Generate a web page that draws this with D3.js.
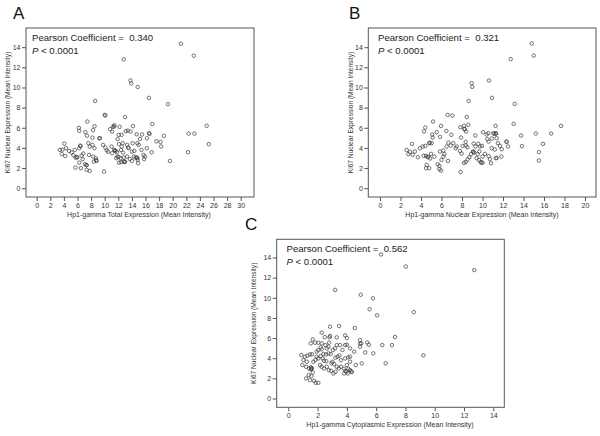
<!DOCTYPE html>
<html>
<head>
<meta charset="utf-8">
<script src="https://cdn.jsdelivr.net/npm/d3@7"></script>
<style>
  html, body { margin: 0; padding: 0; background: #fff; }
  svg { display: block; font-family: Arial, "Liberation Sans", sans-serif; }
</style>
</head>
<body>
<svg id="chart" width="600" height="436"></svg>
<script>
// ---------- DATA ----------
const yTicks = [0, 2, 4, 6, 8, 10, 12, 14];
const aTicks = d3.range(0, 31, 2);
const bTicks = d3.range(0, 21, 2);
const cTicks = d3.range(0, 15, 2);

const aTitleX = "Hp1-gamma Total Expression (Mean Intensity)";
const bTitleX = "Hp1-gamma Nuclear Expression (Mean Intensity)";
const cTitleX = "Hp1-gamma Cytoplasmic Expression (Mean Intensity)";
const titleY = "Ki67 Nuclear Expression (Mean Intensity)";
const coefficients = ["0.340", "0.321", "0.562"];
const panelLetters = ["A", "B", "C"];

// Panel A: Hp1-gamma total vs Ki67
const aX = [21.2,23.1,12.8,13.8,13.9,14.85,16.5,19.3,8.6,10.0,10.1,13.0,7.45,17.0,25.0,22.35,23.2,25.3,22.25,19.6,
  18.7,17.6,18.2,18.3,16.9,16.5,16.6,16.2,
  6.2,6.26,7.15,8.5,8.3,7.4,8.2,9.3,10.8,11.4,12.2,11.1,12.06,11.9,13.1,13.4,13.8,14.16,14.7,15.5,14.1,14.8,15.2,15.0,
  4.06,3.4,3.8,4.3,4.75,3.7,4.2,5.15,5.6,5.4,5.7,6.4,6.45,6.26,5.9,5.95,6.6,6.85,6.76,6.26,5.7,6.5,7.1,7.3,7.35,7.35,7.8,
  7.7,7.6,7.8,8.2,8.5,8.3,8.7,8.8,8.75,8.4,9.9,9.75,10.1,10.3,10.5,11.0,11.4,11.6,11.5,11.1,11.8,11.85,12.1,12.5,12.65,
  12.4,12.7,13.3,13.5,13.45,11.7,12.06,12.35,12.8,13.3,12.8,12.9,13.0,12.1,12.4,13.7,14.0,14.3,14.55,14.8,14.75,14.9,
  14.85,15.7,15.9,15.8,15.4,16.2,14.0,14.35,12.5,11.2,11.4,9.2];
const aY = [14.35,13.15,12.8,10.7,10.4,10.05,8.97,8.35,8.67,7.28,7.22,7.06,6.62,6.36,6.2,5.42,5.42,4.37,3.57,2.71,
  5.2,4.65,4.6,4.15,3.57,5.46,5.4,4.96,
  5.99,5.69,5.56,6.15,5.76,5.22,5.02,4.96,5.86,6.12,6.09,5.62,5.29,4.87,5.66,5.72,5.62,6.16,5.36,5.33,4.47,4.47,4.9,4.3,
  4.43,3.8,3.83,3.97,3.7,3.38,3.2,3.54,3.8,3.28,3.04,4.23,4.18,3.97,3.1,3.05,3.24,3.44,2.88,2.54,2.05,1.99,2.38,2.28,2.3,1.82,1.72,
  3.3,4.47,4.13,4.3,3.97,3.14,2.98,2.71,2.78,2.64,1.65,4.3,4.03,3.77,3.63,4.13,3.8,3.7,3.75,3.47,3.57,3.14,4.37,4.13,4.47,
  3.8,3.54,4.3,3.97,4.05,2.98,3.1,2.98,3.04,3.14,2.64,2.6,2.64,2.54,2.58,2.9,2.71,3.14,3.04,2.98,3.05,2.48,
  2.81,3.3,3.14,2.88,3.8,3.97,3.63,3.7,5.3,6.1,6.25,4.96];

// Panel B: Hp1-gamma nuclear vs Ki67
const bX = [14.8,15.0,12.75,8.94,9.0,10.63,8.65,10.93,13.14,6.6,7.06,8.46,13.04,17.66,15.2,16.7,15.9,13.76,13.85,15.5,15.5,
  5.17,4.42,4.3,5.95,5.53,5.1,5.14,6.47,6.96,5.85,4.8,4.85,5.04,4.16,4.42,3.12,2.6,2.93,3.4,2.76,3.19,3.7,3.9,4.26,4.49,4.65,4.7,
  4.98,4.9,5.3,4.55,4.49,4.8,5.63,5.79,5.79,5.95,6.0,6.18,6.28,5.85,6.18,6.5,6.67,6.9,7.15,6.63,7.48,7.38,7.9,8.36,7.84,8.2,8.23,8.25,
  8.39,8.62,7.97,7.8,8.06,8.36,8.52,7.87,8.2,8.36,8.55,8.72,8.88,9.07,9.1,9.14,9.3,9.2,9.3,9.59,9.76,9.95,9.53,9.69,9.43,9.66,9.82,
  10.0,9.9,10.0,10.24,10.05,10.4,10.47,10.57,10.6,10.93,11.15,11.06,11.3,11.32,11.28,11.38,11.5,10.9,11.2,10.6,10.73,10.83,11.38,11.3,
  11.7,11.87,11.84,12.33,12.36,12.5];
const bY = [14.37,13.17,12.81,10.43,10.06,10.69,8.67,8.97,8.37,7.28,7.22,7.08,6.39,6.19,5.43,5.43,4.4,5.23,4.17,3.58,2.75,
  6.62,6.02,5.63,6.19,5.56,5.33,5.03,5.69,5.3,5.1,4.47,4.5,4.47,4.14,4.2,4.4,3.8,3.6,3.64,3.38,3.31,3.08,3.97,3.21,3.21,3.08,3.12,
  3.41,2.95,3.14,2.32,1.99,1.99,2.38,2.22,1.89,1.75,2.81,3.14,3.38,3.64,3.74,4.14,4.53,4.24,4.47,2.71,4.14,3.97,5.03,4.6,6.06,6.19,5.89,5.85,
  5.63,6.29,3.44,3.7,4.2,4.24,4.07,1.62,2.52,2.61,2.85,3.08,3.38,3.64,3.6,4.44,4.14,3.54,5.23,4.4,4.14,4.2,3.38,3.64,2.98,2.81,2.58,
  2.52,2.56,3.14,3.41,5.56,5.33,4.87,5.46,4.63,4.93,5.4,5.46,5.46,5.42,6.19,4.97,4.47,3.97,3.84,3.18,2.88,2.48,3.01,2.98,
  4.2,3.87,3.14,4.63,4.6,4.14];

// Panel C: Hp1-gamma cytoplasmic vs Ki67
const cX = [12.7,8.02,8.57,7.29,6.42,7.08,9.22,6.65,6.33,
  3.2,4.95,5.78,5.55,6.07,2.85,3.47,4.54,2.28,1.67,1.83,1.53,2.05,2.49,2.81,2.85,3.31,3.88,4.0,2.28,2.53,2.79,2.21,2.28,3.88,4.0,
  4.98,4.9,5.39,5.5,5.25,5.8,4.9,4.9,
  0.89,1.14,1.3,1.48,1.62,1.03,1.26,0.96,1.21,1.42,1.55,1.55,1.71,1.85,1.39,1.58,1.21,1.48,1.76,1.87,2.05,1.67,
  1.94,2.05,2.21,2.35,2.44,2.4,2.58,2.74,2.9,2.17,2.28,2.44,2.63,2.76,2.92,3.01,3.13,3.22,3.36,3.49,3.31,3.45,3.61,3.08,3.22,
  3.81,3.81,3.97,4.0,4.11,4.22,4.34,4.3,4.06,3.88,4.09,4.22,3.7,4.22,4.5,4.22,4.61,5.02,3.31,3.54,3.04,3.2,2.63,2.74,1.94,2.05,
  1.6,1.58,2.6,2.95,3.6,3.9];
const cY = [12.75,13.1,8.57,6.1,5.3,5.3,4.28,3.49,14.3,
  10.78,10.3,9.95,8.86,8.26,7.13,7.2,7.0,6.54,5.87,5.54,5.47,5.54,6.1,6.07,6.2,6.07,6.27,6.0,5.47,5.3,5.54,5.08,4.88,5.3,5.34,
  5.47,5.14,5.57,5.34,4.58,4.48,5.8,5.45,
  4.31,4.15,4.25,4.38,4.38,3.82,3.65,3.32,3.15,2.99,3.1,2.9,3.65,3.82,2.32,2.22,1.99,1.82,1.76,1.56,1.56,2.59,
  4.15,3.98,4.21,3.98,3.75,4.41,4.38,4.48,4.41,3.32,3.15,2.99,3.15,2.82,2.75,3.65,3.42,4.05,4.15,4.28,3.15,2.99,3.15,2.49,2.65,
  2.95,2.49,2.65,3.32,2.95,2.82,2.62,2.7,2.49,3.98,4.08,4.15,4.81,4.98,4.65,3.65,3.32,3.48,5.3,5.3,4.81,4.98,4.98,5.14,4.65,4.81,
  3.0,2.95,3.7,3.5,3.8,2.75];

// ---------- LAYOUT ----------
const panels = [
  { letter: panelLetters[0], xs: aX, ys: aY, ticks: aTicks, title: aTitleX, coef: coefficients[0],
    frame: { l: 26, r: 254, t: 28, b: 197 }, x0: 0, x1: 30, px0: 36.7, px1: 240.7,
    letterPos: [13, 19], yTitleX: 8, textX: 32, titleCx: 139 },
  { letter: panelLetters[1], xs: bX, ys: bY, ticks: bTicks, title: bTitleX, coef: coefficients[1],
    frame: { l: 368.3, r: 596, t: 28, b: 197 }, x0: 0, x1: 20, px0: 380, px1: 585,
    letterPos: [349, 19], yTitleX: 351, textX: 378, titleCx: 482 },
  { letter: panelLetters[2], xs: cX, ys: cY, ticks: cTicks, title: cTitleX, coef: coefficients[2],
    frame: { l: 276.7, r: 504.3, t: 239.3, b: 407.3 }, x0: 0, x1: 14, px0: 288.3, px1: 493.3,
    letterPos: [245, 230], yTitleX: 254, textX: 286.5, titleCx: 390 }
];

const svg = d3.select("#chart");
const frameColor = "#555";
const inkColor = "#222";

panels.forEach(p => {
  const f = p.frame;
  const x = d3.scaleLinear().domain([p.x0, p.x1]).range([p.px0, p.px1]);
  const y = d3.scaleLinear().domain([0, 14]).range([f.b - 8.8, f.b - 8.8 - 141]);
  const g = svg.append("g");

  // frame
  g.append("rect").attr("x", f.l).attr("y", f.t).attr("width", f.r - f.l).attr("height", f.b - f.t)
    .attr("fill", "none").attr("stroke", frameColor).attr("stroke-width", 1);

  // x axis
  const xa = g.append("g").attr("transform", `translate(0,${f.b})`)
    .call(d3.axisBottom(x).tickValues(p.ticks).tickSize(4).tickPadding(2).tickFormat(d3.format("d")));
  xa.select(".domain").remove();
  xa.selectAll("line").attr("stroke", frameColor);
  xa.selectAll("text").attr("font-size", 7).attr("fill", "#333").attr("font-family", "Arial, 'Liberation Sans', sans-serif");

  // y axis
  const ya = g.append("g").attr("transform", `translate(${f.l},0)`)
    .call(d3.axisLeft(y).tickValues(yTicks).tickSize(4).tickPadding(1.5).tickFormat(d3.format("d")));
  ya.select(".domain").remove();
  ya.selectAll("line").attr("stroke", frameColor);
  ya.selectAll("text").attr("font-size", 7).attr("fill", "#333").attr("font-family", "Arial, 'Liberation Sans', sans-serif");

  // axis titles
  g.append("text").attr("x", p.titleCx).attr("y", f.b + 20).attr("text-anchor", "middle")
    .attr("font-size", 7).attr("fill", "#333").text(p.title);
  g.append("text").attr("transform", `translate(${p.yTitleX},${(f.t + f.b) / 2}) rotate(-90)`)
    .attr("text-anchor", "middle").attr("dominant-baseline", "middle")
    .attr("font-size", 6.6).attr("fill", "#333").text(titleY);

  // points
  const pts = p.xs.map((v, i) => [v, p.ys[i]]);
  g.append("g").selectAll("circle").data(pts).join("circle")
    .attr("cx", d => x(d[0])).attr("cy", d => y(d[1])).attr("r", 1.75)
    .attr("fill", "none").attr("stroke", "#3a3a3a").attr("stroke-width", 0.7);

  // annotation text
  g.append("text").attr("x", p.textX).attr("y", f.t + 13).attr("font-size", 9.6).attr("fill", inkColor)
    .attr("xml:space", "preserve").style("white-space", "pre")
    .text(`Pearson Coefficient =  ${p.coef}`);
  const pt = g.append("text").attr("x", p.textX).attr("y", f.t + 25.5).attr("font-size", 9.6).attr("fill", inkColor);
  pt.append("tspan").attr("font-style", "italic").text("P");
  pt.append("tspan").text(" < 0.0001");

  // panel letter
  svg.append("text").attr("x", p.letterPos[0]).attr("y", p.letterPos[1]).attr("font-size", 17)
    .attr("fill", "#111").text(p.letter);
});
</script>
</body>
</html>
